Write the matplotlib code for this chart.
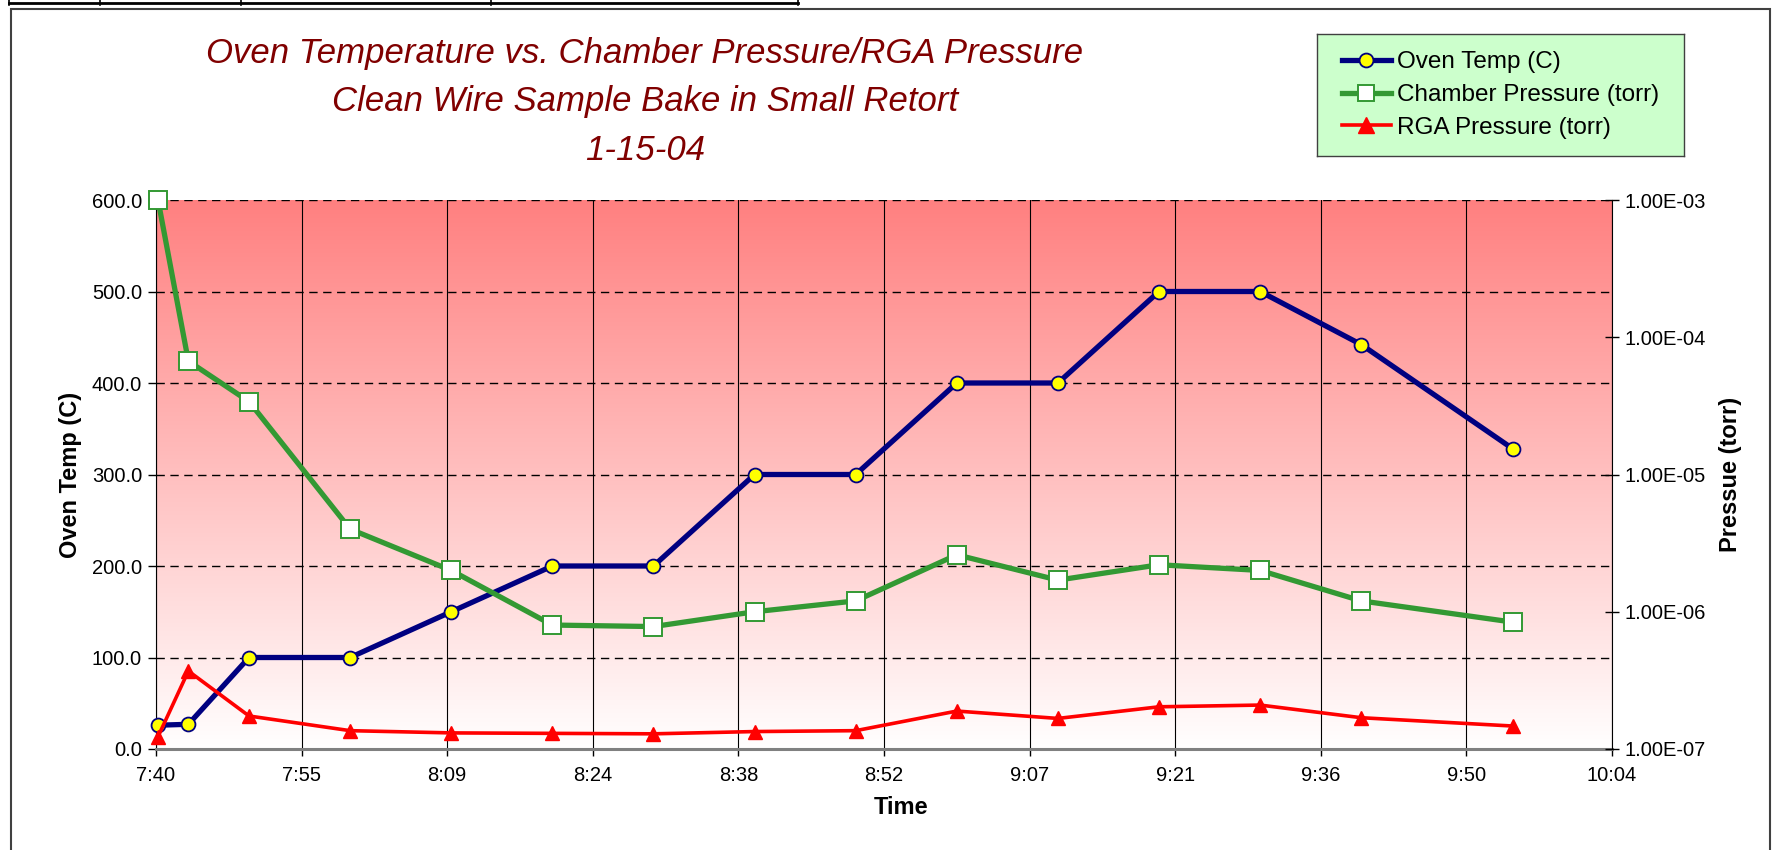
import matplotlib
matplotlib.use("Agg")
import matplotlib.pyplot as plt
import numpy as np
from matplotlib.colors import LinearSegmentedColormap
from matplotlib.lines import Line2D
from matplotlib.patches import Rectangle
from matplotlib.ticker import FixedLocator, FuncFormatter, NullLocator

plt.rcParams['font.family'] = ['Liberation Sans', 'DejaVu Sans']

# datos
horas = ['7:41', '7:44', '7:50', '8:00', '8:10', '8:20', '8:30', '8:40',
         '8:50', '9:00', '9:10', '9:20', '9:30', '9:40', '9:55']
oven_temp = [26, 27, 100, 100, 150, 200, 200, 300, 300, 400, 400, 500, 500, 442, 328]
chamber_p = [1.0e-3, 6.7e-5, 3.4e-5, 4.0e-6, 2.0e-6, 8.0e-7, 7.8e-7, 1.0e-6,
             1.2e-6, 2.6e-6, 1.7e-6, 2.2e-6, 2.0e-6, 1.2e-6, 8.4e-7]
rga_p = [1.23e-7, 3.7e-7, 1.74e-7, 1.36e-7, 1.31e-7, 1.30e-7, 1.29e-7, 1.34e-7,
         1.36e-7, 1.89e-7, 1.67e-7, 2.03e-7, 2.09e-7, 1.69e-7, 1.47e-7]

titulo = ['Oven Temperature vs. Chamber Pressure/RGA Pressure',
          'Clean Wire Sample Bake in Small Retort',
          '1-15-04']

# minutos desde medianoche
mins = [int(h.split(':')[0]) * 60 + int(h.split(':')[1]) for h in horas]
x_min = 0.32 * 1440   # eje de excel en fracciones de dia
x_max = 0.42 * 1440
x_ticks = [x_min + 14.4 * i for i in range(11)]

def fmt_hora(v, pos):
    m = int(v + 1e-6)
    return '%d:%02d' % (m // 60, m % 60)

fig = plt.figure(figsize=(17.73, 8.5), dpi=100)
ax = fig.add_axes([156 / 1773, 1 - 749 / 850, (1612 - 156) / 1773, (749 - 200) / 850])

# fondo degradado
cmap = LinearSegmentedColormap.from_list('fondo', ['#ffffff', '#ff8080'])
grad = np.linspace(1, 0, 256).reshape(-1, 1)
ax.imshow(grad, cmap=cmap, extent=[0, 1, 0, 1], transform=ax.transAxes,
          aspect='auto', zorder=0)

ax.plot(mins, oven_temp, color='#000080', lw=3.8, marker='o', ms=10,
        mfc='#ffff00', mec='#000080', mew=1.3, zorder=3, clip_on=False)

ax.set_xlim(x_min, x_max)
ax.set_ylim(0, 600)
ax.xaxis.set_major_locator(FixedLocator(x_ticks))
ax.xaxis.set_major_formatter(FuncFormatter(fmt_hora))
ax.yaxis.set_major_locator(FixedLocator([0, 100, 200, 300, 400, 500, 600]))
ax.yaxis.set_major_formatter(FuncFormatter(lambda v, p: '%.1f' % v))
ax.set_axisbelow(True)
ax.yaxis.grid(True, color='black', lw=1.0, linestyle=(0, (6, 4)))
ax.xaxis.grid(True, color='black', lw=0.8)
ax.tick_params(axis='y', direction='out', length=6, width=1, labelsize=14.5, pad=4)
ax.tick_params(axis='x', direction='out', length=5, width=1, labelsize=14.5, pad=7)
ax.spines['top'].set_visible(False)
ax.spines['right'].set_visible(False)
ax.spines['left'].set_color('black')
ax.spines['bottom'].set_color('#808080')
ax.spines['bottom'].set_linewidth(2.2)
ax.set_ylabel('Oven Temp (C)', fontsize=17, fontweight='bold')
ax.yaxis.set_label_coords((70 - 156) / 1456, 0.5)
ax.set_xlabel('Time', fontsize=17, fontweight='bold')
ax.xaxis.set_label_coords((901 - 156) / 1456, (749 - 807) / 549)
ax.xaxis.label.set_va('center')
ax.yaxis.label.set_va('center')

ax2 = ax.twinx()
ax2.set_yscale('log')
ax2.plot(mins, chamber_p, color='#339933', lw=3.8, marker='s', ms=13,
         mfc='white', mec='#339933', mew=1.4, zorder=3, clip_on=False)
ax2.plot(mins, rga_p, color='#ff0000', lw=2.6, marker='^', ms=10.5,
         mfc='#ff0000', mec='#ff0000', zorder=4, clip_on=False)
ax2.set_ylim(1e-7, 1e-3)
ax2.yaxis.set_major_locator(FixedLocator([1e-7, 1e-6, 1e-5, 1e-4, 1e-3]))
ax2.yaxis.set_minor_locator(NullLocator())
ax2.yaxis.set_major_formatter(FuncFormatter(lambda v, p: '%.2E' % v))
ax2.tick_params(axis='y', direction='inout', length=10, width=1, labelsize=14.5, pad=4)
ax2.spines['top'].set_visible(False)
ax2.spines['left'].set_visible(False)
ax2.spines['bottom'].set_visible(False)
ax2.spines['right'].set_color('black')
ax2.set_ylabel('Pressue (torr)', fontsize=17, fontweight='bold')
ax2.yaxis.set_label_coords((1730 - 156) / 1456, 0.5)
ax2.yaxis.label.set_va('center')

# titulo
for i, linea in enumerate(titulo):
    fig.text(645 / 1773, 1 - (54 + 48 * i) / 850, linea, ha='center', va='center',
             fontsize=25, style='italic', color='#800000')

# leyenda en su propio recuadro
lax = fig.add_axes([1317 / 1773, 1 - 156 / 850, (1684 - 1317) / 1773, (156 - 34) / 850])
lax.set_facecolor('#ccffcc')
lax.set_xticks([])
lax.set_yticks([])
for s in lax.spines.values():
    s.set_color('#404040')
    s.set_linewidth(1)
handles = [
    Line2D([], [], color='#000080', lw=3.8, marker='o', ms=10, mfc='#ffff00', mec='#000080', mew=1.3),
    Line2D([], [], color='#339933', lw=3.8, marker='s', ms=12, mfc='white', mec='#339933', mew=1.4),
    Line2D([], [], color='#ff0000', lw=2.6, marker='^', ms=11, mfc='#ff0000', mec='#ff0000'),
]
etiquetas = ['Oven Temp (C)', 'Chamber Pressure (torr)', 'RGA Pressure (torr)']
lax.legend(handles, etiquetas, loc='center', frameon=False, fontsize=17.5,
           handlelength=2.0, handletextpad=0.25, labelspacing=0.45, borderpad=0.2)

# marco del grafico y resto de la tabla de arriba
fig.add_artist(Rectangle((11 / 1773, -0.05), (1770 - 11) / 1773, 1.05 - 9 / 850,
                         transform=fig.transFigure, fill=False, ec='#404040', lw=1.5))
fig.add_artist(Line2D([9 / 1773, 798 / 1773], [1 - 3 / 850, 1 - 3 / 850],
                      transform=fig.transFigure, color='black', lw=2))
for xv in [9, 100, 241, 491, 798]:
    fig.add_artist(Line2D([xv / 1773, xv / 1773], [1, 1 - 5 / 850],
                          transform=fig.transFigure, color='black', lw=1.2))

fig.savefig('out.png', dpi=100)
